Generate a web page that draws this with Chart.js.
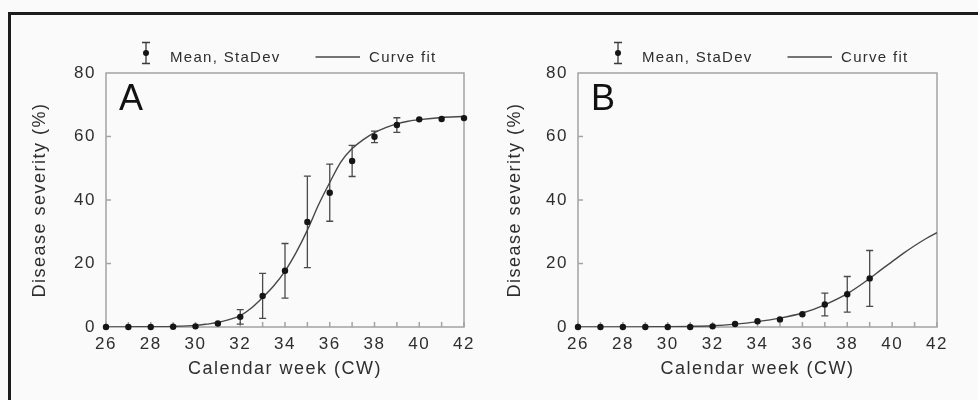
<!DOCTYPE html>
<html lang="en">
<head>
  <meta charset="UTF-8" />
  <title>Disease severity by calendar week</title>

  <script src="https://cdn.jsdelivr.net/npm/chart.js"></script>

  <style>
    body {
      margin: 0;
      background: #fafafa;
      width: 978px;
      height: 400px;
      overflow: hidden;
      position: relative;
      font-family: "Liberation Sans", Arial, sans-serif;
    }

    .frame {
      position: absolute;
      left: 8px;
      top: 12px;
      right: -10px;
      bottom: -10px;
      border-top: 3px solid #1c1c1c;
      border-left: 3px solid #1c1c1c;
    }

    .panel {
      position: absolute;
      top: 0;
      width: 489px;
      height: 400px;
    }
  </style>
</head>
<body>

  <div class="frame"></div>
  <div class="panel" style="left: 0;"><canvas id="chartA" width="489" height="400"></canvas></div>
  <div class="panel" style="left: 489px;"><canvas id="chartB" width="489" height="400"></canvas></div>

  <script>
    // calendar weeks with observations
    const weeks = [26, 27, 28, 29, 30, 31, 32, 33, 34, 35, 36, 37, 38, 39, 40, 41, 42];

    // panel A: mean and standard deviation (%)
    const meanA = [0, 0, 0, 0.1, 0.2, 1.1, 3.2, 9.8, 17.7, 33.1, 42.3, 52.3, 59.9, 63.6, 65.4, 65.5, 65.8];
    const sdA   = [0, 0, 0, 0, 0, 0.3, 2.3, 7.1, 8.6, 14.4, 9.0, 4.9, 1.8, 2.3, 0.4, 0.3, 0.3];

    // panel A: fitted curve
    const fitWeeksA = [26, 27, 28, 29, 30, 30.5, 31, 31.5, 32, 32.5, 33, 33.5, 34, 34.5, 35, 35.5,
                       36, 36.5, 37, 37.5, 38, 38.5, 39, 39.5, 40, 41, 42];
    const fitA = [0, 0.05, 0.1, 0.2, 0.5, 0.9, 1.4, 2.3, 3.6, 6.0, 9.3, 13.0, 17.6, 23.5, 30.5, 38.5,
                  45.5, 52.0, 56.2, 59.0, 61.2, 62.8, 64.0, 64.8, 65.3, 66.0, 66.3];

    // panel B: observations only up to week 39
    const meanB = [0, 0, 0, 0, 0, 0, 0.2, 0.95, 1.8, 2.4, 4.0, 7.1, 10.3, 15.3];
    const sdB   = [0, 0, 0, 0, 0, 0, 0, 0, 0, 0, 0, 3.6, 5.6, 8.8];

    const fitWeeksB = [26, 27, 28, 29, 30, 31, 32, 33, 34, 35, 36, 37, 38, 39, 39.5, 40, 40.5, 41, 41.5, 42];
    const fitB = [0, 0, 0.02, 0.05, 0.1, 0.2, 0.4, 0.9, 1.7, 2.8, 4.4, 7.0, 10.5, 15.3, 18.0, 20.6, 23.2, 25.6, 27.8, 29.7];

    const xTitle = 'Calendar week (CW)';
    const yTitle = 'Disease severity (%)';
    const legendMean = 'Mean, StaDev';
    const legendFit = 'Curve fit';

    const textColor = '#2e2e2e';
    Chart.defaults.font.family = '"Liberation Sans", Arial, sans-serif';

    // box, inward ticks, error bars, legend and panel letter
    const panelDecor = {
      id: 'panelDecor',
      beforeDraw(chart) {
        chart.ctx.letterSpacing = '1.5px';
      },
      beforeDatasetsDraw(chart, args, opts) {
        const { ctx, chartArea: a, scales: { x, y } } = chart;
        ctx.save();
        ctx.strokeStyle = '#a3a3a3';
        ctx.lineWidth = 1.5;
        ctx.strokeRect(a.left, a.top, a.right - a.left, a.bottom - a.top);

        ctx.beginPath();
        for (let w = x.min; w <= x.max; w++) {
          const px = x.getPixelForValue(w);
          ctx.moveTo(px, a.bottom);
          ctx.lineTo(px, a.bottom - 5);
        }
        for (let v = 20; v < y.max; v += 20) {
          const py = y.getPixelForValue(v);
          ctx.moveTo(a.left, py);
          ctx.lineTo(a.left + 5, py);
        }
        ctx.stroke();

        ctx.strokeStyle = '#4a4a4a';
        ctx.lineWidth = 1.3;
        ctx.beginPath();
        opts.means.forEach((m, i) => {
          const sd = opts.sds[i];
          if (!sd || sd < 0.5) return;
          const px = x.getPixelForValue(weeks[i]);
          const hi = y.getPixelForValue(m + sd);
          const lo = y.getPixelForValue(m - sd);
          ctx.moveTo(px, hi); ctx.lineTo(px, lo);
          ctx.moveTo(px - 3.5, hi); ctx.lineTo(px + 3.5, hi);
          ctx.moveTo(px - 3.5, lo); ctx.lineTo(px + 3.5, lo);
        });
        ctx.stroke();
        ctx.restore();
      },
      afterDraw(chart, args, opts) {
        const { ctx, chartArea: a } = chart;
        const lx = a.left;
        ctx.save();

        // legend: error bar symbol
        const ix = lx + 40;
        ctx.strokeStyle = '#3a3a3a';
        ctx.lineWidth = 1.3;
        ctx.beginPath();
        ctx.moveTo(ix, 42.5); ctx.lineTo(ix, 63.5);
        ctx.moveTo(ix - 4, 42.5); ctx.lineTo(ix + 4, 42.5);
        ctx.moveTo(ix - 4, 63.5); ctx.lineTo(ix + 4, 63.5);
        ctx.stroke();
        ctx.fillStyle = '#151515';
        ctx.beginPath();
        ctx.arc(ix, 53, 3, 0, Math.PI * 2);
        ctx.fill();

        ctx.fillStyle = textColor;
        ctx.font = '15px "Liberation Sans", Arial, sans-serif';
        ctx.letterSpacing = '1.3px';
        ctx.textBaseline = 'alphabetic';
        ctx.textAlign = 'left';
        ctx.fillText(legendMean, lx + 64, 61.5);

        ctx.strokeStyle = '#474747';
        ctx.lineWidth = 1.4;
        ctx.beginPath();
        ctx.moveTo(lx + 209.5, 57);
        ctx.lineTo(lx + 254, 57);
        ctx.stroke();
        ctx.fillText(legendFit, lx + 263, 62);

        // panel letter
        ctx.fillStyle = '#111';
        ctx.letterSpacing = '0px';
        ctx.font = '36px "Liberation Sans", Arial, sans-serif';
        ctx.fillText(opts.letter, lx + 13, 110);
        ctx.restore();
      }
    };

    function makeChart(id, letter, means, sds, fitX, fitY, pad, yWidth) {
      const points = means.map((m, i) => ({ x: weeks[i], y: m }));
      const curve = fitX.map((w, i) => ({ x: w, y: fitY[i] }));

      return new Chart(document.getElementById(id), {
        type: 'scatter',
        data: {
          datasets: [
            {
              label: legendMean,
              data: points,
              pointRadius: 3.2,
              backgroundColor: '#151515',
              borderColor: '#151515',
              borderWidth: 0,
              showLine: false,
              clip: false
            },
            {
              label: legendFit,
              data: curve,
              showLine: true,
              pointRadius: 0,
              borderColor: '#474747',
              borderWidth: 1.4,
              cubicInterpolationMode: 'monotone'
            }
          ]
        },
        options: {
          responsive: false,
          animation: false,
          layout: { padding: pad },
          plugins: {
            legend: { display: false },
            tooltip: { enabled: false },
            panelDecor: { letter: letter, means: means, sds: sds }
          },
          scales: {
            x: {
              type: 'linear',
              min: 26,
              max: 42,
              ticks: { stepSize: 2, padding: 7, color: textColor, font: { size: 17 } },
              grid: { display: false, drawTicks: false },
              border: { display: false },
              title: { display: true, text: xTitle, color: textColor, font: { size: 18 }, padding: 0 },
              afterFit(s) { s.height = 53; }
            },
            y: {
              min: 0,
              max: 80,
              ticks: { stepSize: 20, padding: 10, color: textColor, font: { size: 17 } },
              grid: { display: false, drawTicks: false },
              border: { display: false },
              title: { display: true, text: yTitle, color: textColor, font: { size: 18 }, padding: { top: 4, bottom: 0 } },
              afterFit(s) { s.width = yWidth; }
            }
          }
        },
        plugins: [panelDecor]
      });
    }

    makeChart('chartA', 'A', meanA, sdA, fitWeeksA, fitA, { left: 25, right: 25, top: 73, bottom: 20 }, 81);
    makeChart('chartB', 'B', meanB, sdB, fitWeeksB, fitB, { left: 11, right: 41, top: 73, bottom: 20 }, 78);
  </script>

</body>
</html>
